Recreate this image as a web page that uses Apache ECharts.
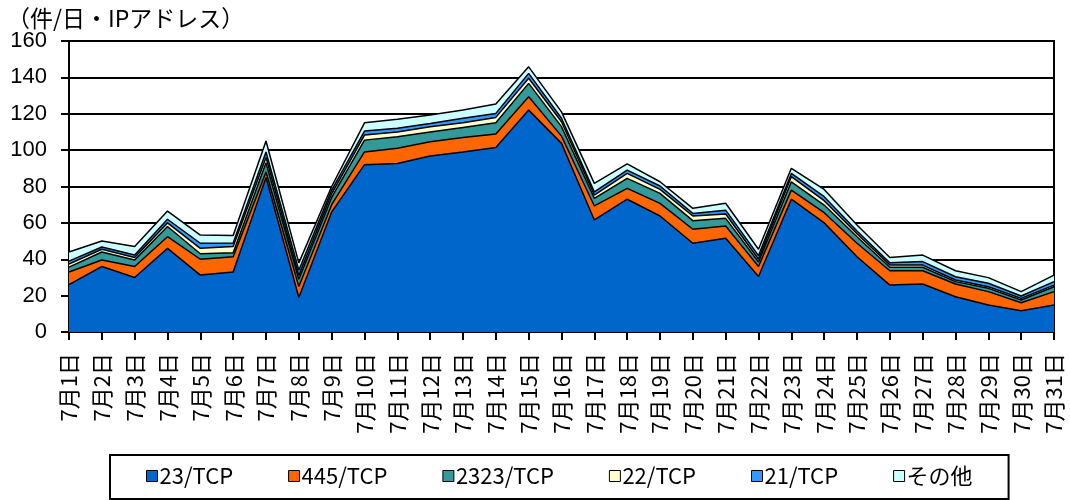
<!DOCTYPE html>
<html>

<head>
    <meta charset="utf-8" />
    <title>ports</title>
    <script src="https://cdn.jsdelivr.net/npm/echarts@6/dist/echarts.min.js"></script>
    <style>
        body { margin: 0; background: #fff; }
        #main { width: 1070px; height: 500px; }
    </style>
</head>

<body>
    <div id="main"></div>
    <script type="text/javascript">
        // 日付ラベル
        var days = [];
        for (var d = 1; d <= 31; d++) {
            days.push('7月' + d + '日');
        }

        var port23 = [26, 36, 30, 46, 31.3, 33, 85, 19, 66, 92, 92.7, 96.8, 99, 101.5, 122, 103.7,
            61.6, 73, 63.8, 48.8, 51.5, 30.5, 73, 60, 41.4, 25.8, 26.4, 19.4, 14.8, 11.7, 14.8];
        var port445 = [7, 3.6, 6, 6.4, 8.7, 8.4, 3, 6, 4, 7, 8.3, 7.8, 8, 7.4, 7.4, 4,
            7.7, 6, 6.9, 7.7, 6.8, 5.5, 5, 5.6, 7.4, 7.9, 7.3, 7, 7.4, 4.4, 7.4];
        var port2323 = [2.7, 4.4, 3.6, 5.6, 3, 2.2, 5, 4, 4, 6.5, 6.4, 5.4, 5.5, 6.1, 7.3, 5.2,
            4.2, 5.5, 5.5, 4.7, 4.2, 2.5, 4.6, 4.2, 3.6, 1.9, 1.9, 1.3, 1.8, 1.5, 2.7];
        var port22 = [1.7, 1.5, 1.4, 2, 3, 3.4, 3, 2, 2, 2.8, 2.6, 2.9, 2.5, 3, 2.8, 2.7,
            1.8, 2.7, 2.2, 2.6, 2.4, 1.5, 2.8, 2.4, 1.6, 1.2, 1.2, 0.9, 0.9, 0.9, 0.9];
        var port21 = [1.6, 1.2, 1.3, 2, 2.8, 2, 3, 3, 2, 2.2, 2, 1.8, 2.5, 2.2, 2.7, 1.9,
            1.8, 1.8, 1.9, 1.4, 2.1, 2, 1.8, 2.2, 1.5, 1.3, 1.9, 1.8, 1.9, 1.3, 1.9];
        var others = [5, 3.3, 4.7, 4.5, 4.5, 4, 6, 4, 2, 4.5, 5, 4.6, 4.5, 5.1, 3.6, 3.5,
            4.6, 3.4, 2.3, 2.8, 3.8, 3.5, 2.8, 4, 3.3, 2.9, 3.6, 3.3, 3.1, 2.4, 3.6];

        var names = ['23/TCP', '445/TCP', '2323/TCP', '22/TCP', '21/TCP', 'その他'];
        var colors = ['#0066CC', '#FF6600', '#339999', '#FFFFCC', '#3399FF', '#CCFFFF'];
        var values = [port23, port445, port2323, port22, port21, others];

        var jpFont = '"Noto Sans CJK JP", sans-serif';

        var myChart = echarts.init(document.getElementById('main'));

        var series = names.map(function (name, i) {
            return {
                name: name,
                type: 'line',
                stack: 'total',
                symbol: 'none',
                color: colors[i],
                lineStyle: { color: '#000', width: 1.5 },
                areaStyle: { color: colors[i], opacity: 1 },
                data: values[i]
            };
        });

        var option = {
            animation: false,
            color: colors,
            title: {
                text: '（件/日・IPアドレス）',
                left: 2,
                top: 2,
                textStyle: { fontFamily: jpFont, fontSize: 23, fontWeight: 'normal', color: '#000' }
            },
            grid: {
                left: 69, right: 16, top: 41, bottom: 168,
                show: true, borderColor: '#000', borderWidth: 2, backgroundColor: 'transparent'
            },
            legend: {
                left: 110,
                top: 455,
                padding: [10, 36, 12, 36],
                itemGap: 55,
                itemWidth: 11,
                itemHeight: 11,
                icon: 'rect',
                borderColor: '#000',
                borderWidth: 2,
                itemStyle: { borderColor: '#000', borderWidth: 1 },
                textStyle: { fontFamily: jpFont, fontSize: 22, color: '#000', padding: [0, 0, 0, -3] },
                data: names
            },
            xAxis: {
                type: 'category',
                boundaryGap: false,
                data: days,
                axisLine: { lineStyle: { color: '#000', width: 2 } },
                axisTick: { inside: false, length: 8, lineStyle: { color: '#000', width: 2 }, interval: 0 },
                axisLabel: {
                    rotate: 90,
                    interval: 0,
                    margin: 21,
                    fontFamily: jpFont,
                    fontSize: 22,
                    color: '#000'
                }
            },
            yAxis: {
                type: 'value',
                min: 0,
                max: 160,
                interval: 20,
                axisLine: { show: true, lineStyle: { color: '#000', width: 2 } },
                axisTick: { show: true, length: 8, lineStyle: { color: '#000', width: 2 } },
                splitLine: { lineStyle: { color: '#000', width: 2 } },
                axisLabel: {
                    margin: 22,
                    fontFamily: '"Liberation Sans", Arial, sans-serif',
                    fontSize: 22,
                    color: '#000'
                }
            },
            series: series
        };

        myChart.setOption(option);
    </script>
</body>

</html>
